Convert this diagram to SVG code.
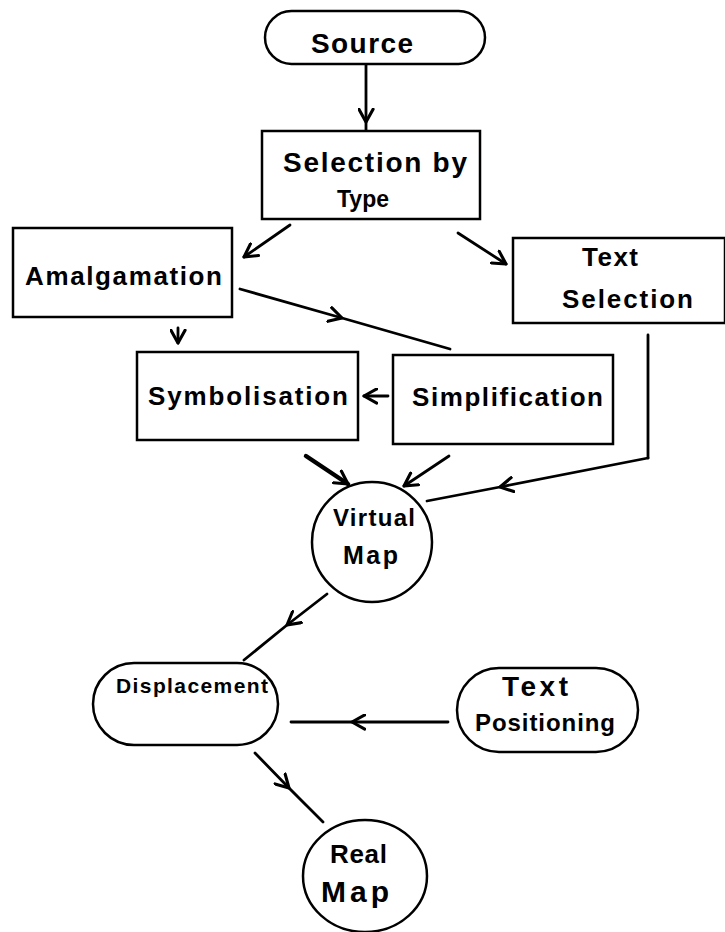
<svg xmlns="http://www.w3.org/2000/svg" width="725" height="932" viewBox="0 0 725 932">
<style>
.box{fill:#fff;stroke:#000;stroke-width:2.5}
.t{font-family:"Liberation Sans",Arial,sans-serif;font-weight:bold;fill:#000;text-anchor:start}
.c{fill:none;stroke:#000;stroke-width:2.8;stroke-linecap:round;stroke-linejoin:round}
</style>
<defs>
<marker id="v" viewBox="0 0 12 12" refX="10" refY="6" markerWidth="17" markerHeight="17" markerUnits="userSpaceOnUse" orient="auto">
<path d="M1,1 L10,6 L1,11" fill="none" stroke="#000" stroke-width="2.2" stroke-linecap="round" stroke-linejoin="round"/>
</marker>
</defs>
<rect width="725" height="932" fill="#fff"/>
<g id="connectors">
<path class="c" d="M366,64 L366,122 L366,131" marker-mid="url(#v)"/>
<path class="c" d="M290,225 L244,257" marker-end="url(#v)"/>
<path class="c" d="M458,233 L506,264" marker-end="url(#v)"/>
<path class="c" d="M240,289 L342,318 L450,349" marker-mid="url(#v)"/>
<path class="c" d="M178,328 L178,343" marker-end="url(#v)"/>
<path class="c" d="M388,396 L364,396" marker-end="url(#v)"/>
<path class="c" d="M306,456 L348,484" marker-end="url(#v)" style="stroke-width:4.5"/>
<path class="c" d="M449,456 L404,486" marker-end="url(#v)"/>
<path class="c" d="M648,335 L648,458"/>
<path class="c" d="M648,458 L500,487 L427,501" marker-mid="url(#v)"/>
<path class="c" d="M327,594 L287,625 L244,660" marker-mid="url(#v)"/>
<path class="c" d="M448,722 L352,722 L291,722" marker-mid="url(#v)"/>
<path class="c" d="M255,753 L289,788 L323,822" marker-mid="url(#v)"/>
</g>
<g id="source">
<rect class="box" x="265" y="11" width="220" height="53" rx="26.5"/>
<text class="t" x="311" y="53" font-size="28" textLength="102" lengthAdjust="spacing">Source</text>
</g>
<g id="selection-by-type">
<rect class="box" x="262" y="131" width="218" height="88"/>
<text class="t" x="283" y="172" font-size="28" textLength="184" lengthAdjust="spacing">Selection by</text>
<text class="t" x="337" y="207" font-size="24" textLength="52" lengthAdjust="spacingAndGlyphs">Type</text>
</g>
<g id="amalgamation">
<rect class="box" x="13" y="228" width="219" height="89"/>
<text class="t" x="25" y="285" font-size="26" textLength="197" lengthAdjust="spacing">Amalgamation</text>
</g>
<g id="text-selection">
<rect class="box" x="513" y="238" width="212" height="85"/>
<text class="t" x="582" y="266" font-size="26" textLength="56" lengthAdjust="spacing">Text</text>
<text class="t" x="562" y="308" font-size="26" textLength="131" lengthAdjust="spacing">Selection</text>
</g>
<g id="symbolisation">
<rect class="box" x="137" y="352" width="221" height="88"/>
<text class="t" x="148" y="405" font-size="26" textLength="200" lengthAdjust="spacing">Symbolisation</text>
</g>
<g id="simplification">
<rect class="box" x="393" y="355" width="220" height="89"/>
<text class="t" x="412" y="406" font-size="26" textLength="191" lengthAdjust="spacing">Simplification</text>
</g>
<g id="virtual-map">
<ellipse class="box" cx="372" cy="542" rx="60" ry="60"/>
<text class="t" x="333" y="526" font-size="24" textLength="82" lengthAdjust="spacing">Virtual</text>
<text class="t" x="343" y="564" font-size="25" textLength="55" lengthAdjust="spacing">Map</text>
</g>
<g id="displacement">
<rect class="box" x="93" y="663" width="185" height="82" rx="41"/>
<text class="t" x="116" y="693" font-size="21" textLength="152" lengthAdjust="spacing">Displacement</text>
</g>
<g id="text-positioning">
<rect class="box" x="457" y="668" width="181" height="84" rx="42"/>
<text class="t" x="502" y="696" font-size="28" textLength="66" lengthAdjust="spacing">Text</text>
<text class="t" x="475" y="731" font-size="24" textLength="140" lengthAdjust="spacing">Positioning</text>
</g>
<g id="real-map">
<ellipse class="box" cx="365" cy="876" rx="62" ry="56"/>
<text class="t" x="330" y="863" font-size="26" textLength="57" lengthAdjust="spacing">Real</text>
<text class="t" x="321" y="902" font-size="30" textLength="68" lengthAdjust="spacing">Map</text>
</g>
</svg>
